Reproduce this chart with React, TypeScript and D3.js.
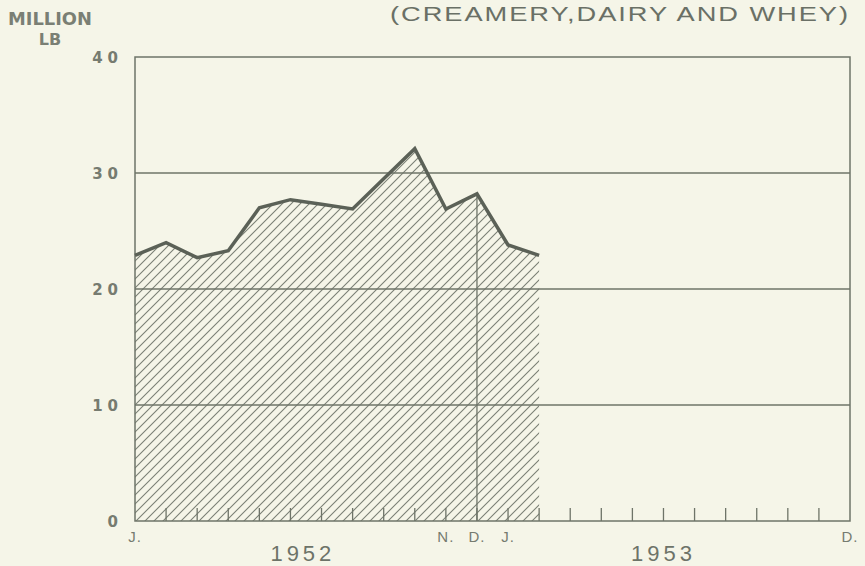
import React from "react";
import * as d3 from "d3";

// monthly production, million lb, Jan 1952 - Feb 1953
const months = ["J", "F", "M", "A", "M", "J", "J", "A", "S", "O", "N", "D",
  "J", "F", "M", "A", "M", "J", "J", "A", "S", "O", "N", "D"];
const values = [22.9, 24.0, 22.7, 23.3, 27.0, 27.7, 27.3, 26.9, 29.5, 32.1, 26.9, 28.2, 23.8, 22.9];
const yTicks = [0, 10, 20, 30, 40];
const monthLabels = [
  { i: 0, text: "J." },
  { i: 10, text: "N." },
  { i: 11, text: "D." },
  { i: 12, text: "J." },
  { i: 23, text: "D." },
];
const years = [
  { i: 5.4, text: "1952" },
  { i: 17, text: "1953" },
];

const W = 865;
const H = 566;
const margin = { top: 57, right: 15, bottom: 45, left: 135 };
const ink = "#6e7468";
const dark = "#5b6157";
const paper = "#f5f5e8";

export default function App() {
  const x = d3.scaleLinear().domain([0, months.length - 1]).range([margin.left, W - margin.right]);
  const y = d3.scaleLinear().domain([0, 40]).range([H - margin.bottom, margin.top]);

  const area = d3.area<number>()
    .x((d, i) => x(i))
    .y0(y(0))
    .y1((d) => y(d));
  const line = d3.line<number>()
    .x((d, i) => x(i))
    .y((d) => y(d));

  const decIdx = 11;

  return (
    <svg width={W} height={H} style={{ position: "absolute", left: 0, top: 0, background: paper }}>
      <defs>
        <pattern id="hatch" patternUnits="userSpaceOnUse" width={9} height={9}>
          <path d="M0,9 L9,0 M-3,3 L3,-3 M6,12 L12,6" stroke="#7a8075" strokeWidth={1.1} />
        </pattern>
      </defs>
      <rect x={0} y={0} width={W} height={H} fill={paper} />

      {/* titles */}
      <text x={390} y={21} textLength={460} lengthAdjust="spacingAndGlyphs" fontFamily="Liberation Sans, Arial" fontSize={21}
        letterSpacing={1.5} fill="#6a7066">(CREAMERY,DAIRY AND WHEY)</text>
      <text x={8} y={25} textLength={84} lengthAdjust="spacingAndGlyphs" fontFamily="DejaVu Sans" fontWeight="bold" fontSize={17}
        fill="#7a7f74">MILLION</text>
      <text x={50} y={45} textAnchor="middle" fontFamily="DejaVu Sans" fontWeight="bold" fontSize={16}
        fill="#7a7f74">LB</text>

      {/* hatched area */}
      <path d={area(values) ?? ""} fill="url(#hatch)" />

      {/* grid */}
      {yTicks.filter((t) => t > 0 && t < 40).map((t) => (
        <line key={t} x1={x(0)} x2={x(23)} y1={y(t)} y2={y(t)} stroke={ink} strokeWidth={1.5} />
      ))}
      <rect x={x(0)} y={y(40)} width={x(23) - x(0)} height={y(0) - y(40)} fill="none" stroke={ink} strokeWidth={1.5} />

      {/* month ticks */}
      {months.map((m, i) => (i > 0 && i < 23 ? (
        <line key={i} x1={x(i)} x2={x(i)} y1={y(0)} y2={y(0) - 13} stroke={ink} strokeWidth={1.3} />
      ) : null))}
      <line x1={x(decIdx)} x2={x(decIdx)} y1={y(values[decIdx])} y2={y(0)} stroke={ink} strokeWidth={1.3} />

      {/* data line */}
      <path d={line(values) ?? ""} fill="none" stroke={dark} strokeWidth={3.5} strokeLinejoin="miter" />

      {/* y tick labels */}
      {yTicks.map((t) => (
        <text key={t} x={123} y={y(t) + 6} textAnchor="end" fontFamily="DejaVu Sans" fontWeight="bold"
          fontSize={15} letterSpacing={5} fill="#767b70">{String(t)}</text>
      ))}

      {/* x labels */}
      {monthLabels.map((d, k) => (
        <text key={k} x={x(d.i)} y={542} textAnchor="middle" fontFamily="Liberation Sans, Arial" fontSize={15}
          letterSpacing={1} fill="#767b70">{d.text}</text>
      ))}
      {years.map((d) => (
        <text key={d.text} x={x(d.i)} y={561} textAnchor="middle" fontFamily="Liberation Sans, Arial" fontSize={22}
          letterSpacing={4} fill="#6d7368">{d.text}</text>
      ))}
    </svg>
  );
}
